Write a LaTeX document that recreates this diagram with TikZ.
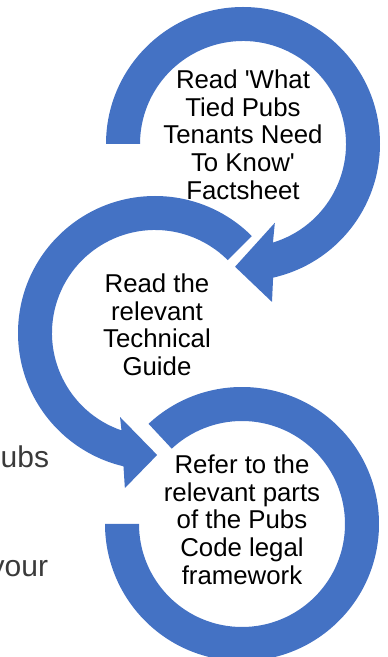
\documentclass[tikz,border=0pt]{standalone}
\usepackage{fontspec}
\setmainfont{Liberation Sans}
\definecolor{ringblue}{HTML}{4472C4}
\definecolor{sidegray}{HTML}{3A3A3A}

\begin{document}
\begin{tikzpicture}[x=1pt, y=1pt,
    ring/.style={fill=ringblue},
    stagetext/.style={align=center, inner sep=0pt, font=\fontsize{25.8}{27.6}\selectfont},
    sidetext/.style={inner sep=0pt, text=sidegray, font=\fontsize{30}{34}\selectfont}]
    \useasboundingbox (0,0) rectangle (388,657);
    \coordinate (T) at (243,513);
    \coordinate (M) at (155,324);
    \coordinate (B) at (242,133);
    \fill[ring, shift={(B)}] (133:137) arc[start angle=133, end angle=-180, radius=137]
        -- (180:103) arc[start angle=-180, end angle=133, radius=103] -- cycle;
    \fill[ring, shift={(M)}] (45:137) arc[start angle=45, end angle=256.7, radius=137]
        -- (259:158) -- (271:122) -- (247.4:91) -- (251:103)
        arc[start angle=251, end angle=45, radius=103] -- cycle;
    \fill[ring, shift={(T)}] (180:137) arc[start angle=180, end angle=-77.3, radius=137]
        -- (-79.6:160.6) -- (-93.7:123) -- (-68:85) -- (-73.1:103)
        arc[start angle=-73.1, end angle=180, radius=103] -- cycle;
    \node[stagetext] (S1) at (243,522.3) {Read \textquotesingle What\\Tied Pubs\\Tenants Need\\To Know\textquotesingle\\Factsheet};
    \node[stagetext] (S2) at (157,332.4) {Read the\\relevant\\Technical\\Guide};
    \node[stagetext] (S3) at (242,137.4) {Refer to the\\relevant parts\\of the Pubs\\Code legal\\framework};
    \begin{scope}
        \clip (0,0) rectangle (388,657);
        \node[sidetext, anchor=base west] (P) at (0.5,189) {ubs};
        \node[sidetext, anchor=base east] (Y) at (48.3,80.3) {your};
    \end{scope}
\end{tikzpicture}
\end{document}
